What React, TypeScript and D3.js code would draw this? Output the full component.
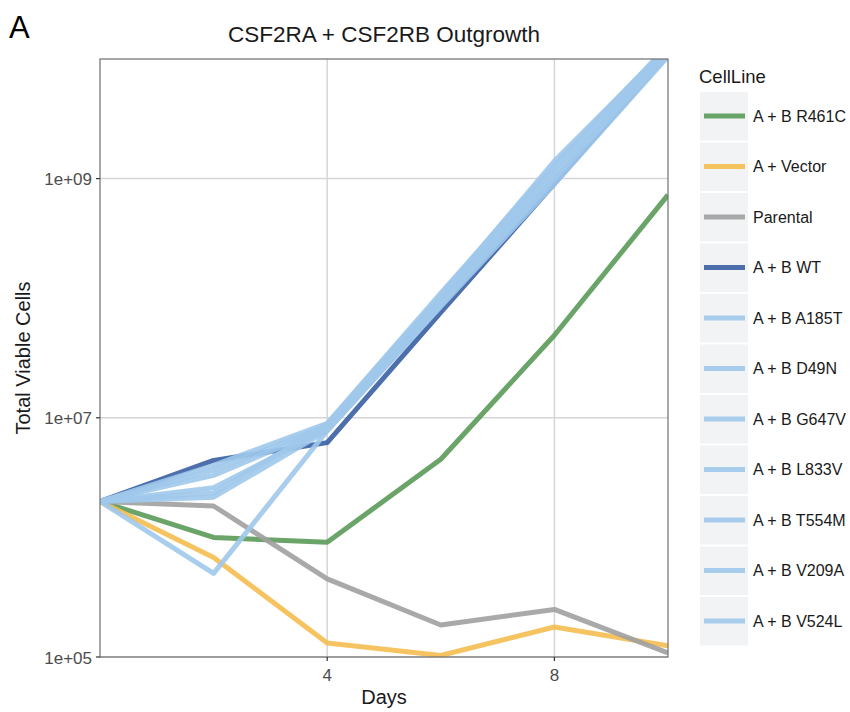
import React from "react";
import * as d3 from "d3";

const days = [0, 2, 4, 6, 8, 10];
const cellLines = [
  "A + B R461C", "A + Vector", "Parental", "A + B WT", "A + B A185T", "A + B D49N",
  "A + B G647V", "A + B L833V", "A + B T554M", "A + B V209A", "A + B V524L",
];
const R461C = [2e6, 1.0e6, 9.1e5, 4.5e6, 4.9e7, 7.3e8];
const Vector = [2e6, 6.8e5, 1.31e5, 1.03e5, 1.78e5, 1.24e5];
const Parental = [2e6, 1.83e6, 4.5e5, 1.85e5, 2.5e5, 1.08e5];
const WT = [2e6, 4.4e6, 6.2e6, 7.6e7, 9.1e8, 1.1e10];
const A185T = [2e6, 4.0e6, 9.0e6, 1.1e8, 1.3e9, 1.3e10];
const D49N = [2e6, 3.65e6, 8.6e6, 1.0e8, 1.2e9, 1.2e10];
const G647V = [2e6, 3.3e6, 8.3e6, 9.5e7, 1.1e9, 1.15e10];
const L833V = [2e6, 2.6e6, 8.0e6, 9.0e7, 1.0e9, 1.1e10];
const T554M = [2e6, 2.35e6, 8.8e6, 1.05e8, 1.4e9, 1.25e10];
const V209A = [2e6, 2.17e6, 7.8e6, 8.5e7, 9.0e8, 1.05e10];
const V524L = [2e6, 5.0e5, 7.8e6, 8.8e7, 1.0e9, 1.1e10];
const seriesValues = [R461C, Vector, Parental, WT, A185T, D49N, G647V, L833V, T554M, V209A, V524L];
const colors = [
  "#5a9a58", "#f5bd50", "#a0a0a0", "#3a5fa3", "#9ec8eb", "#9ec8eb",
  "#9ec8eb", "#9ec8eb", "#9ec8eb", "#9ec8eb", "#9ec8eb",
];
const xTicks = [4, 8];
const yTicks = [1e5, 1e7, 1e9];
const yTickLabels = ["1e+05", "1e+07", "1e+09"];

const FONT = "'Liberation Sans', Arial, Helvetica, sans-serif";

export default function App() {
  const left = 100, right = 668, top = 59, bottom = 657;
  const x = d3.scaleLinear().domain([0, 10]).range([left, right]);
  const y = d3.scaleLog().domain([1e5, 1e10]).range([bottom, top]);
  const line = d3.line<number>().x((_, i) => x(days[i])).y((v) => y(v));

  return (
    <svg width={850} height={712} style={{ position: "absolute", left: 0, top: 0 }} fontFamily={FONT}>
      <rect x={0} y={0} width={850} height={712} fill="#fff" />
      <defs>
        <clipPath id="panel">
          <rect x={left} y={top} width={right - left} height={bottom - top} />
        </clipPath>
      </defs>
      <text x={9} y={38} fontSize={31} fill="#000">A</text>
      <text x={(left + right) / 2} y={42} fontSize={22.5} textAnchor="middle" fill="#1a1a1a">
        CSF2RA + CSF2RB Outgrowth
      </text>
      {/* grid */}
      {xTicks.map((t) => (
        <line key={"gx" + t} x1={x(t)} x2={x(t)} y1={top} y2={bottom} stroke="#d6d6d6" strokeWidth={1.5} />
      ))}
      {yTicks.map((t) => (
        <line key={"gy" + t} x1={left} x2={right} y1={y(t)} y2={y(t)} stroke="#d6d6d6" strokeWidth={1.5} />
      ))}
      {/* lines */}
      <g clipPath="url(#panel)">
        {seriesValues.map((vals, i) => (
          <path
            key={cellLines[i]}
            d={line(vals) || ""}
            fill="none"
            stroke={colors[i]}
            strokeWidth={5}
            strokeOpacity={0.9}
            strokeLinejoin="round"
          />
        ))}
      </g>
      {/* border */}
      <rect x={left} y={top} width={right - left} height={bottom - top} fill="none" stroke="#6e6e6e" strokeWidth={1.2} />
      {/* ticks */}
      {xTicks.map((t) => (
        <g key={"tx" + t}>
          <line x1={x(t)} x2={x(t)} y1={bottom} y2={bottom + 4} stroke="#333" strokeWidth={1.2} />
          <text x={x(t)} y={bottom + 24} fontSize={17} textAnchor="middle" fill="#4d4d4d">{t}</text>
        </g>
      ))}
      {yTicks.map((t, i) => (
        <g key={"ty" + t}>
          <line x1={left - 4} x2={left} y1={y(t)} y2={y(t)} stroke="#333" strokeWidth={1.2} />
          <text x={left - 8} y={y(t) + 6.5} fontSize={17} textAnchor="end" fill="#4d4d4d">{yTickLabels[i]}</text>
        </g>
      ))}
      <text x={(left + right) / 2} y={704} fontSize={20} textAnchor="middle" fill="#1a1a1a">Days</text>
      <text
        transform={`translate(30, ${(top + bottom) / 2}) rotate(-90)`}
        fontSize={20}
        textAnchor="middle"
        fill="#1a1a1a"
      >
        Total Viable Cells
      </text>
      {/* legend */}
      <text x={699} y={83} fontSize={18.5} fill="#1a1a1a">CellLine</text>
      {cellLines.map((name, i) => {
        const cy = 116 + i * 50.5;
        return (
          <g key={"lg" + name}>
            <rect x={700} y={cy - 24} width={48} height={48.5} fill="#f2f3f5" />
            <line x1={704} x2={745} y1={cy} y2={cy} stroke={colors[i]} strokeWidth={5} strokeOpacity={0.9} />
            <text x={753} y={cy + 5.5} fontSize={16} fill="#1a1a1a">{name}</text>
          </g>
        );
      })}
    </svg>
  );
}
